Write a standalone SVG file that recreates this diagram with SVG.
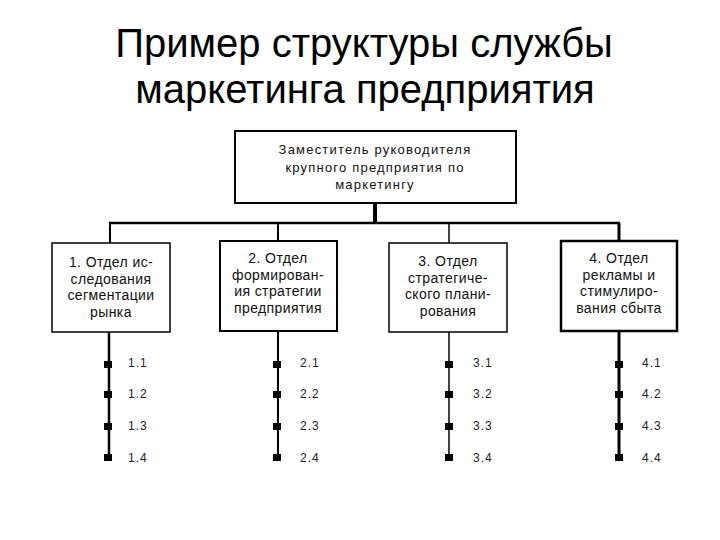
<svg xmlns="http://www.w3.org/2000/svg" width="720" height="540" viewBox="0 0 720 540">
<style>
.title{font-family:"Liberation Sans",Arial,sans-serif;font-size:40px;fill:#000;text-anchor:middle}
.bt{font-family:"Liberation Sans",Arial,sans-serif;font-size:14px;fill:#111;text-anchor:middle;letter-spacing:0.4px}
.tt{font-family:"Liberation Sans",Arial,sans-serif;font-size:13px;fill:#111;text-anchor:middle;letter-spacing:1.2px}
.lbl{font-family:"Liberation Sans",Arial,sans-serif;font-size:12px;fill:#222;letter-spacing:1px}
.box{fill:#fff;stroke:#000}
.ln{stroke:#000;fill:none}
.dot{fill:#000}
</style>
<rect width="720" height="540" fill="#fff"/>
<g id="title">
<text class="title" x="364" y="57">Пример структуры службы</text>
<text class="title" x="365" y="103">маркетинга предприятия</text>
</g>
<g id="connectors">
<line class="ln" x1="375" y1="203" x2="375" y2="223" stroke-width="4"/>
<line class="ln" x1="109" y1="223" x2="620" y2="223" stroke-width="2.5"/>
<line class="ln" x1="110" y1="223" x2="110" y2="243" stroke-width="2"/>
<line class="ln" x1="278" y1="223" x2="278" y2="241" stroke-width="2"/>
<line class="ln" x1="449" y1="223" x2="449" y2="243" stroke-width="1.5"/>
<line class="ln" x1="619" y1="223" x2="619" y2="241" stroke-width="3"/>
<line class="ln" x1="109" y1="332" x2="109" y2="460" stroke-width="2.5"/>
<line class="ln" x1="278" y1="331" x2="278" y2="460" stroke-width="2"/>
<line class="ln" x1="449" y1="332" x2="449" y2="460" stroke-width="1.5"/>
<line class="ln" x1="619" y1="331" x2="619" y2="460" stroke-width="3"/>
</g>
<g id="top">
<rect class="box" x="235" y="131" width="281" height="72" stroke-width="2"/>
<text class="tt" x="375" y="154">Заместитель руководителя</text>
<text class="tt" x="375" y="172">крупного предприятия по</text>
<text class="tt" x="375" y="189">маркетингу</text>
</g>
<g id="dept1">
<rect class="box" x="52" y="243" width="118" height="89" stroke-width="1.5"/>
<text class="bt" x="111" y="267">1. Отдел ис-</text>
<text class="bt" x="111" y="284">следования</text>
<text class="bt" x="111" y="300">сегментации</text>
<text class="bt" x="111" y="317">рынка</text>
</g>
<g id="dept2">
<rect class="box" x="220" y="241" width="117" height="90" stroke-width="2"/>
<text class="bt" x="278" y="263">2. Отдел</text>
<text class="bt" x="278" y="280">формирован-</text>
<text class="bt" x="278" y="296">ия стратегии</text>
<text class="bt" x="278" y="313">предприятия</text>
</g>
<g id="dept3">
<rect class="box" x="389" y="243" width="118" height="89" stroke-width="1.5"/>
<text class="bt" x="448" y="266">3. Отдел</text>
<text class="bt" x="448" y="283">стратегиче-</text>
<text class="bt" x="448" y="299">ского плани-</text>
<text class="bt" x="448" y="316">рования</text>
</g>
<g id="dept4">
<rect class="box" x="561" y="241" width="116" height="90" stroke-width="2.5"/>
<text class="bt" x="619" y="263">4. Отдел</text>
<text class="bt" x="619" y="280">рекламы и</text>
<text class="bt" x="619" y="296">стимулиро-</text>
<text class="bt" x="619" y="313">вания сбыта</text>
</g>
<g id="sub1">
<rect class="dot" x="104" y="361" width="8" height="7"/>
<rect class="dot" x="104" y="391" width="8" height="7"/>
<rect class="dot" x="104" y="423" width="8" height="7"/>
<rect class="dot" x="104" y="454" width="8" height="7"/>
<text class="lbl" x="128" y="367">1.1</text>
<text class="lbl" x="128" y="398">1.2</text>
<text class="lbl" x="128" y="430">1.3</text>
<text class="lbl" x="128" y="462">1.4</text>
</g>
<g id="sub2">
<rect class="dot" x="273" y="361" width="8" height="7"/>
<rect class="dot" x="273" y="391" width="8" height="7"/>
<rect class="dot" x="273" y="423" width="8" height="7"/>
<rect class="dot" x="273" y="454" width="8" height="7"/>
<text class="lbl" x="300" y="367">2.1</text>
<text class="lbl" x="300" y="398">2.2</text>
<text class="lbl" x="300" y="430">2.3</text>
<text class="lbl" x="300" y="462">2.4</text>
</g>
<g id="sub3">
<rect class="dot" x="445" y="361" width="8" height="7"/>
<rect class="dot" x="445" y="391" width="8" height="7"/>
<rect class="dot" x="445" y="423" width="8" height="7"/>
<rect class="dot" x="445" y="454" width="8" height="7"/>
<text class="lbl" x="473" y="367">3.1</text>
<text class="lbl" x="473" y="398">3.2</text>
<text class="lbl" x="473" y="430">3.3</text>
<text class="lbl" x="473" y="462">3.4</text>
</g>
<g id="sub4">
<rect class="dot" x="615" y="361" width="8" height="7"/>
<rect class="dot" x="615" y="391" width="8" height="7"/>
<rect class="dot" x="615" y="423" width="8" height="7"/>
<rect class="dot" x="615" y="454" width="8" height="7"/>
<text class="lbl" x="642" y="367">4.1</text>
<text class="lbl" x="642" y="398">4.2</text>
<text class="lbl" x="642" y="430">4.3</text>
<text class="lbl" x="642" y="462">4.4</text>
</g>
</svg>
